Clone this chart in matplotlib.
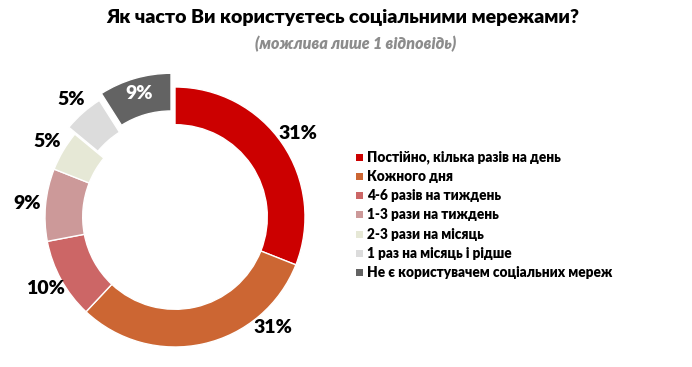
import numpy as np
import matplotlib
matplotlib.use("Agg")
import matplotlib.pyplot as plt

# Data
labels = [
    "Постійно, кілька разів на день",
    "Кожного дня",
    "4-6 разів на тиждень",
    "1-3 рази на тиждень",
    "2-3 рази на місяць",
    "1 раз на місяць і рідше",
    "Не є користувачем соціальних мереж",
]
values = [31, 31, 10, 9, 5, 5, 9]
colors = ["#CC0000", "#CC6633", "#CC6666", "#CC9999", "#E6E8D6", "#DCDCDC", "#636363"]
explode = [0, 0, 0, 0, 0, 0.07, 0.11]
# label angle shift (deg) where the label is not at the slice middle
label_shift = [0, 29, 0, 0, 0, 0, 0]

plt.rcParams["font.family"] = ["Lato", "DejaVu Sans"]

W, H = 692, 367
fig = plt.figure(figsize=(W / 100, H / 100), dpi=100)

# axes placed so the ring center sits at about (175, 217) px, radius 130 px
cx, cy, R = 175, 217, 130
lim = 1.3
size = 2 * lim * R
ax = fig.add_axes([(cx - size / 2) / W, (H - cy - size / 2) / H, size / W, size / H])

wedges, _ = ax.pie(
    values,
    colors=colors,
    startangle=90,
    counterclock=False,
    explode=explode,
    radius=1.0,
    wedgeprops=dict(width=0.29, edgecolor="white", linewidth=1),
)
ax.set_xlim(-lim, lim)
ax.set_ylim(-lim, lim)
ax.set_aspect("equal")
ax.axis("off")

# Percent labels
for i, w in enumerate(wedges):
    ang = np.deg2rad((w.theta1 + w.theta2) / 2 + label_shift[i])
    if i == len(wedges) - 1:
        r = 0.88 + explode[i]
        col = "white"
    else:
        r = 1.14 + explode[i]
        col = "black"
    ax.text(r * np.cos(ang), r * np.sin(ang), f"{values[i]}%",
            ha="center", va="center", fontsize=14, fontweight="heavy", color=col)

# Title
fig.text(343 / W, 1 - 18 / H, "Як часто Ви користуєтесь соціальними мережами?",
         ha="center", va="center", fontsize=14, fontweight="heavy")
fig.text(356 / W, 1 - 44 / H, "(можлива лише 1 відповідь)",
         ha="center", va="center", fontsize=11.5, fontweight="heavy",
         fontstyle="italic", color="#8C8C8C")

# Legend
y0, dy = 157, 19.3
for i, (lab, c) in enumerate(zip(labels, colors)):
    y = 1 - (y0 + i * dy) / H
    fig.patches.append(plt.Rectangle((356 / W, y - 3.5 / H), 7 / W, 7 / H,
                                     transform=fig.transFigure, facecolor=c,
                                     edgecolor="none"))
    fig.text(367 / W, y, lab, ha="left", va="center", fontsize=9.8, fontweight="heavy")

plt.savefig("out.png", dpi=100)
plt.close()
